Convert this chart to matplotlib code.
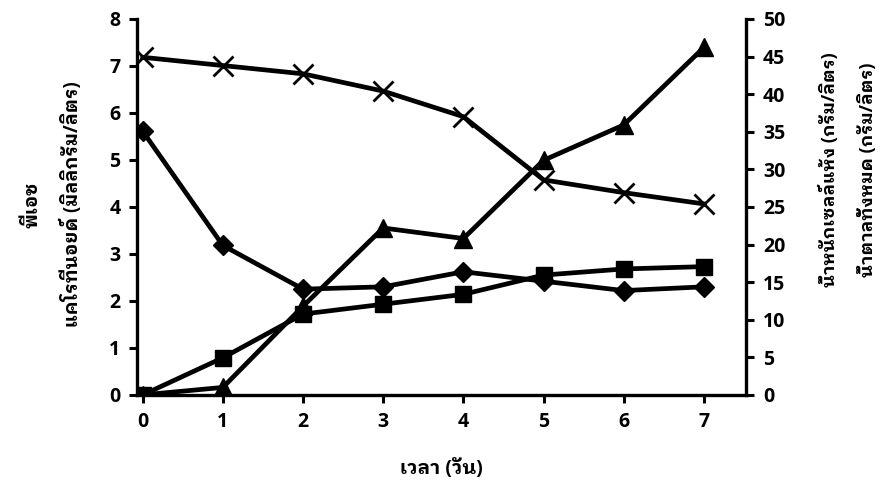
import matplotlib
matplotlib.use('Agg')
import matplotlib.pyplot as plt

plt.rcParams['font.family'] = ['Open Sans', 'IBM Plex Sans Thai Looped']
plt.rcParams['font.weight'] = 'bold'
plt.rcParams['axes.labelweight'] = 'bold'

days = [0, 1, 2, 3, 4, 5, 6, 7]
ph = [5.61, 3.18, 2.25, 2.30, 2.62, 2.42, 2.22, 2.30]
carotenoid = [0.0, 0.79, 1.72, 1.93, 2.14, 2.55, 2.68, 2.73]
dry_cell = [0.0, 1.0, 11.8, 22.2, 20.8, 31.2, 35.9, 46.2]
total_sugar = [44.9, 43.8, 42.7, 40.4, 37.0, 28.6, 26.9, 25.4]

fig = plt.figure(figsize=(8.96, 4.98), dpi=100)
ax = fig.add_axes([0.153, 0.207, 0.68, 0.755])
ax2 = ax.twinx()

lw = 3.4
ax.plot(days, ph, color='black', lw=lw, marker='D', ms=10, zorder=3)
ax.plot(days, carotenoid, color='black', lw=lw, marker='s', ms=12, zorder=3)
ax2.plot(days, dry_cell, color='black', lw=lw, marker='^', ms=13, zorder=3)
ax2.plot(days, total_sugar, color='black', lw=lw, marker='x', ms=14, mew=2, zorder=3)

ax.set_xlim(-0.07, 7.53)
ax.set_ylim(0, 8)
ax2.set_ylim(0, 50)
ax.set_xticks(days)
ax.set_yticks(range(0, 9))
ax2.set_yticks(range(0, 51, 5))

for a in (ax, ax2):
    a.spines['top'].set_visible(False)
    for s in a.spines.values():
        s.set_linewidth(2.4)
    a.tick_params(width=2.2, length=6, labelsize=14, pad=6)
ax.spines['right'].set_visible(False)
ax2.spines['left'].set_visible(False)
ax2.spines['bottom'].set_visible(False)

ax.set_xlabel('เวลา (วัน)', fontsize=14, labelpad=20)
fig.text(0.036, 0.59, 'พีเอช', rotation=90, ha='center', va='center', fontsize=13.5)
fig.text(0.080, 0.59, 'แคโรทีนอยด์ (มิลลิกรัม/ลิตร)', rotation=90, ha='center', va='center', fontsize=13.5)
fig.text(0.925, 0.66, 'น้ำหนักเซลล์แห้ง (กรัม/ลิตร)', rotation=90, ha='center', va='center', fontsize=13)
fig.text(0.968, 0.66, 'น้ำตาลทั้งหมด (กรัม/ลิตร)', rotation=90, ha='center', va='center', fontsize=13)

fig.savefig('out.png', dpi=100)
